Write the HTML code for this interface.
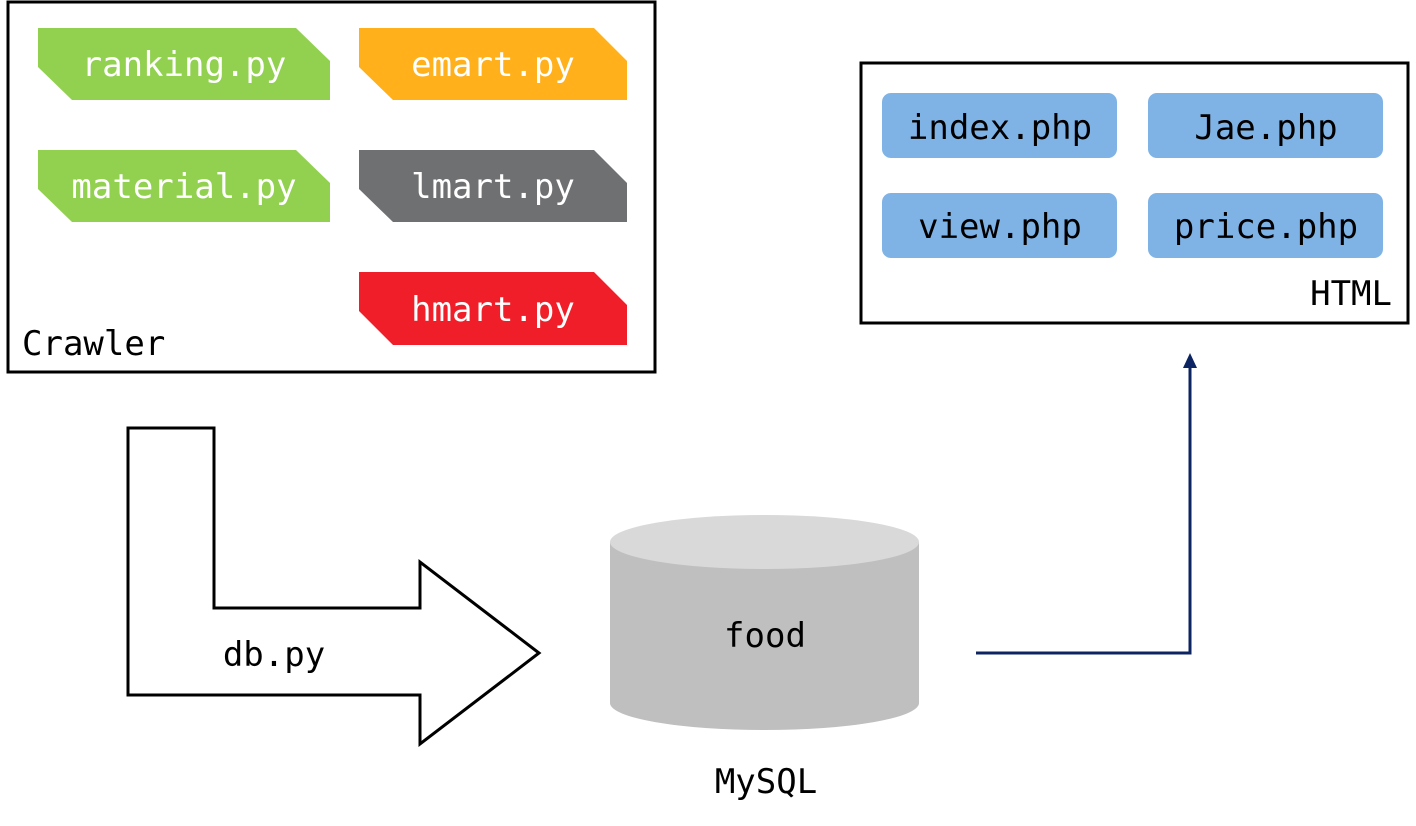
<!DOCTYPE html>
<html><head><meta charset="utf-8"><style>html,body{margin:0;padding:0;background:#fff;}svg{display:block}</style></head>
<body>
<svg width="1416" height="826" viewBox="0 0 1416 826" xmlns="http://www.w3.org/2000/svg" font-family="'DejaVu Sans Mono','Liberation Mono',monospace">
<rect x="8" y="2" width="647" height="370" fill="none" stroke="#000" stroke-width="3"/>
<g font-size="34" fill="#fff" text-anchor="middle">
<polygon points="38,28 296,28 330,61 330,100 72,100 38,67" fill="#92d050"/>
<text x="184" y="76">ranking.py</text>
<polygon points="359,28 594,28 627,61 627,100 393,100 359,67" fill="#ffb01a"/>
<text x="493" y="76">emart.py</text>
<polygon points="38,150 296,150 330,183 330,222 72,222 38,189" fill="#92d050"/>
<text x="184" y="198">material.py</text>
<polygon points="359,150 594,150 627,183 627,222 393,222 359,189" fill="#6f7072"/>
<text x="493" y="198">lmart.py</text>
<polygon points="359,272 594,272 627,305 627,345 393,345 359,311" fill="#f01e28"/>
<text x="493" y="321">hmart.py</text>
</g>
<text x="22" y="355" font-size="34" fill="#000">Crawler</text>

<rect x="861" y="63" width="547" height="260" fill="none" stroke="#000" stroke-width="3"/>
<g fill="#7fb2e5">
<rect x="882" y="93" width="235" height="65" rx="9"/>
<rect x="1148" y="93" width="235" height="65" rx="9"/>
<rect x="882" y="193" width="235" height="65" rx="9"/>
<rect x="1148" y="193" width="235" height="65" rx="9"/>
</g>
<g font-size="34" fill="#000" text-anchor="middle">
<text x="1000" y="139">index.php</text>
<text x="1266" y="139">Jae.php</text>
<text x="1000" y="238">view.php</text>
<text x="1266" y="238">price.php</text>
</g>
<text x="1392" y="305" font-size="34" text-anchor="end">HTML</text>

<polygon points="128,428 214,428 214,608 420,608 420,562 539,653 420,744 420,695 128,695" fill="#fff" stroke="#000" stroke-width="3"/>
<text x="274" y="666" font-size="34" text-anchor="middle">db.py</text>

<path d="M610,542 L610,703 A154.5,27 0 0 0 919,703 L919,542 Z" fill="#bfbfbf"/>
<ellipse cx="764.5" cy="542" rx="154.5" ry="27" fill="#d9d9d9"/>
<text x="765" y="647" font-size="34" text-anchor="middle">food</text>
<text x="766" y="793" font-size="34" text-anchor="middle">MySQL</text>

<polyline points="976,653 1190,653 1190,366" fill="none" stroke="#0c2461" stroke-width="3"/>
<polygon points="1183,368 1190,353 1197,368" fill="#0c2461"/>
</svg>
</body></html>
